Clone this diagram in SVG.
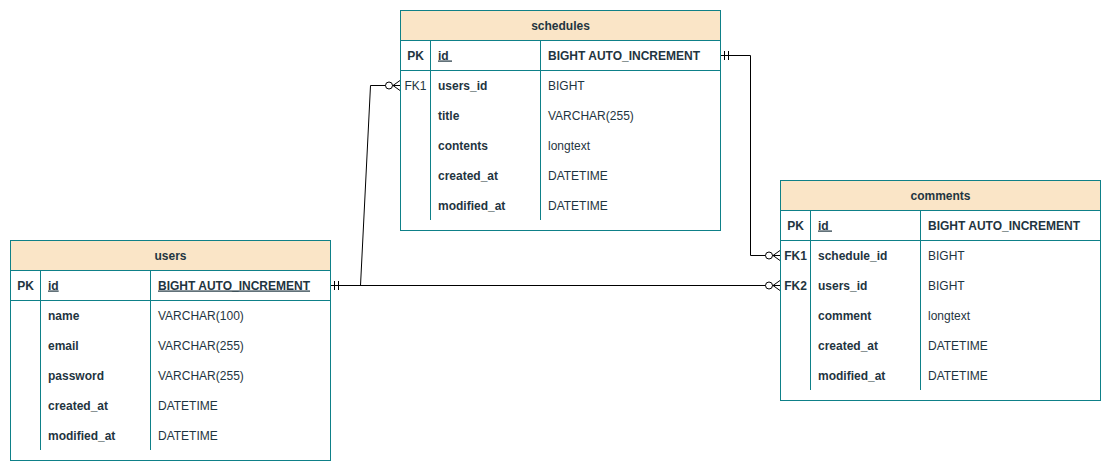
<svg xmlns="http://www.w3.org/2000/svg" width="1111" height="471" viewBox="0 0 1111 471">
<style>
.box{fill:#ffffff;stroke:#0e8088;stroke-width:1}
.hdr{fill:#fae5c7;stroke:#0e8088;stroke-width:1}
.ln{stroke:#0e8088;stroke-width:1;fill:none}
text{font-family:"Liberation Sans",Arial,Helvetica,sans-serif;font-size:12px;fill:#1f3541}
.b{font-weight:bold}
.c{text-anchor:middle}
.u{text-decoration:underline}
.edge{stroke:#000000;stroke-width:1;fill:none}
</style>
<defs>
<marker id="zeroMany" markerUnits="userSpaceOnUse" viewBox="-16 -7 17 14" markerWidth="17" markerHeight="14" refX="0" refY="0" orient="auto">
<path d="M-7 0 L0 -5 M-7 0 L0 0 M-7 0 L0 5" stroke="#000" stroke-width="1" fill="none"/>
<circle cx="-11" cy="0" r="3.5" fill="#fff" stroke="#000" stroke-width="1"/>
</marker>
<marker id="mandOne" markerUnits="userSpaceOnUse" viewBox="0 -6 12 12" markerWidth="12" markerHeight="12" refX="0" refY="0" orient="auto">
<path d="M4.5 -4.5 L4.5 4.5 M8.5 -4.5 L8.5 4.5" stroke="#000" stroke-width="1" fill="none"/>
</marker>
</defs>
<rect width="1111" height="471" fill="#ffffff"/>

<g id="connectors">
<path class="edge" d="M330 285.5 L780 285.5" marker-start="url(#mandOne)" marker-end="url(#zeroMany)"/>
<path class="edge" d="M360.5 285.5 L370.5 85.5 L400 85.5" marker-end="url(#zeroMany)"/>
<path class="edge" d="M720 55.5 L750.5 55.5 L750.5 255.5 L780 255.5" marker-start="url(#mandOne)" marker-end="url(#zeroMany)"/>
</g>

<g id="schedules">
<rect class="box" x="400.5" y="10.5" width="320" height="220"/>
<rect class="hdr" x="400.5" y="10.5" width="320" height="30"/>
<path class="ln" d="M400.5 70.5 H720.5 M430.5 40.5 V70.5 M540.5 40.5 V70.5 M430.5 70.5 V220 M540.5 70.5 V220"/>
<text class="b c" x="560.5" y="29.5">schedules</text>
<text class="b c" x="415.5" y="59.5">PK</text>
<text class="b u" x="438" y="59.5">id&#160;</text>
<text class="b" x="548" y="59.5">BIGHT AUTO_INCREMENT</text>
<text class="c" x="415.5" y="89.5">FK1</text>
<text class="b" x="438" y="89.5">users_id</text>
<text x="548" y="89.5">BIGHT</text>
<text class="b" x="438" y="119.5">title</text>
<text x="548" y="119.5">VARCHAR(255)</text>
<text class="b" x="438" y="149.5">contents</text>
<text x="548" y="149.5">longtext</text>
<text class="b" x="438" y="179.5">created_at</text>
<text x="548" y="179.5">DATETIME</text>
<text class="b" x="438" y="209.5">modified_at</text>
<text x="548" y="209.5">DATETIME</text>
</g>

<g id="comments">
<rect class="box" x="780.5" y="180.5" width="320" height="220"/>
<rect class="hdr" x="780.5" y="180.5" width="320" height="30"/>
<path class="ln" d="M780.5 240.5 H1100.5 M810.5 210.5 V240.5 M920.5 210.5 V240.5 M810.5 240.5 V390 M920.5 240.5 V390"/>
<text class="b c" x="940.5" y="199.5">comments</text>
<text class="b c" x="795.5" y="229.5">PK</text>
<text class="b u" x="818" y="229.5">id&#160;</text>
<text class="b" x="928" y="229.5">BIGHT AUTO_INCREMENT</text>
<text class="b c" x="795.5" y="259.5">FK1</text>
<text class="b" x="818" y="259.5">schedule_id</text>
<text x="928" y="259.5">BIGHT</text>
<text class="b c" x="795.5" y="289.5">FK2</text>
<text class="b" x="818" y="289.5">users_id</text>
<text x="928" y="289.5">BIGHT</text>
<text class="b" x="818" y="319.5">comment</text>
<text x="928" y="319.5">longtext</text>
<text class="b" x="818" y="349.5">created_at</text>
<text x="928" y="349.5">DATETIME</text>
<text class="b" x="818" y="379.5">modified_at</text>
<text x="928" y="379.5">DATETIME</text>
</g>

<g id="users">
<rect class="box" x="10.5" y="240.5" width="320" height="220"/>
<rect class="hdr" x="10.5" y="240.5" width="320" height="30"/>
<path class="ln" d="M10.5 300.5 H330.5 M40.5 270.5 V300.5 M150.5 270.5 V300.5 M40.5 300.5 V450 M150.5 300.5 V450"/>
<text class="b c" x="170.5" y="259.5">users</text>
<text class="b c" x="25.5" y="289.5">PK</text>
<text class="b u" x="48" y="289.5">id</text>
<text class="b u" x="158" y="289.5">BIGHT AUTO_INCREMENT</text>
<text class="b" x="48" y="319.5">name</text>
<text x="158" y="319.5">VARCHAR(100)</text>
<text class="b" x="48" y="349.5">email</text>
<text x="158" y="349.5">VARCHAR(255)</text>
<text class="b" x="48" y="379.5">password</text>
<text x="158" y="379.5">VARCHAR(255)</text>
<text class="b" x="48" y="409.5">created_at</text>
<text x="158" y="409.5">DATETIME</text>
<text class="b" x="48" y="439.5">modified_at</text>
<text x="158" y="439.5">DATETIME</text>
</g>
</svg>
